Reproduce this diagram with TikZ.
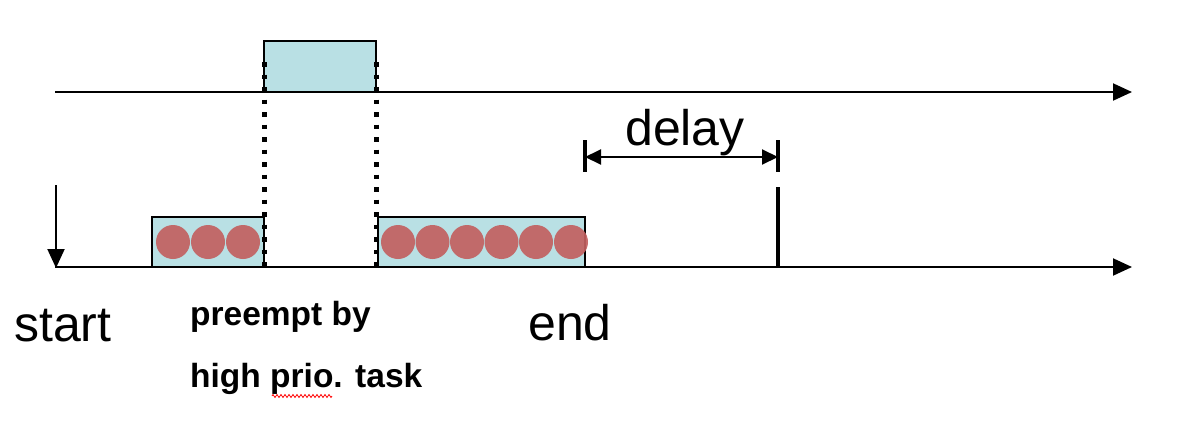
\documentclass[tikz,border=0pt]{standalone}
\usepackage{fontspec}
\setmainfont{Liberation Sans}
\usetikzlibrary{arrows.meta,decorations.pathmorphing}
\definecolor{boxblue}{RGB}{185,224,228}
\definecolor{ball}{RGB}{194,96,96}
\begin{document}
\begin{tikzpicture}[x=1pt,y=-1pt,
  axis/.style={line width=2pt,-{Triangle[length=19pt,width=17pt]}},
  taskbox/.style={draw,line width=2pt,fill=boxblue,inner sep=0pt,outer sep=0pt},
  ballnode/.style={circle,fill=ball,fill opacity=0.92,inner sep=0pt,minimum size=34pt},
  dotline/.style={line width=5pt,dash pattern=on 4.5pt off 8pt},
  bigtext/.style={font=\fontsize{50}{54}\selectfont,inner sep=0pt,anchor=base west},
  boldtext/.style={font=\fontsize{33.5}{36}\selectfont\bfseries,inner sep=0pt,anchor=base west}]
\useasboundingbox (0,0) rectangle (1186,429);
% axes
\coordinate (t0) at (55,92);
\coordinate (t1) at (1132,92);
\coordinate (b0) at (55,267);
\coordinate (b1) at (1132,267);
\coordinate (s0) at (56,185);
\coordinate (s1) at (56,268);
\draw[axis] (t0) -- (t1);
\draw[axis] (b0) -- (b1);
\draw[axis] (s0) -- (s1);
% boxes
\node[taskbox,minimum width=112pt,minimum height=51pt] (hp) at (320,66.5) {};
\node[taskbox,minimum width=112pt,minimum height=50pt] (lp1) at (208,242) {};
\node[taskbox,minimum width=207pt,minimum height=50pt] (lp2) at (481.5,242) {};
% dotted preemption lines
\coordinate (p1top) at (264,62);
\coordinate (p1bot) at (264,267);
\coordinate (p2top) at (376,62);
\coordinate (p2bot) at (376,267);
\draw[dotline] (p1top) -- (p1bot);
\draw[dotline] (p2top) -- (p2bot);
% balls
\foreach \x [count=\i] in {173,208,243} \node[ballnode] (a\i) at (\x,242) {};
\foreach \x [count=\i] in {398,432.5,467,501.5,536,571} \node[ballnode] (c\i) at (\x,242) {};
% delay
\coordinate (dl) at (585,157);
\coordinate (dr) at (778,157);
\coordinate (dlt) at (585,140);
\coordinate (dlb) at (585,172);
\coordinate (drt) at (778,140);
\coordinate (drb) at (778,172);
\draw[line width=4pt] (dlt) -- (dlb);
\draw[line width=4pt] (drt) -- (drb);
\draw[line width=2pt,{Triangle[length=16pt,width=15pt]}-{Triangle[length=16pt,width=15pt]}] (dl) -- (dr);
\node[bigtext] (delay) at (625,145) {delay};
% deadline bar
\coordinate (dd0) at (778,187);
\coordinate (dd1) at (778,268);
\draw[line width=4pt] (dd0) -- (dd1);
% labels
\node[bigtext] (start) at (14,341) {start};
\node[bigtext] (end) at (528,340) {end};
\node[boldtext] (pre) at (190,325) {preempt by};
\node[boldtext] (hi) at (190,387) {high prio. task};
\coordinate (w0) at (272,396);
\coordinate (w1) at (332,396);
\draw[red,line width=0.8pt,decorate,decoration={zigzag,amplitude=1.5pt,segment length=4pt}] (w0) -- (w1);
\end{tikzpicture}
\end{document}
